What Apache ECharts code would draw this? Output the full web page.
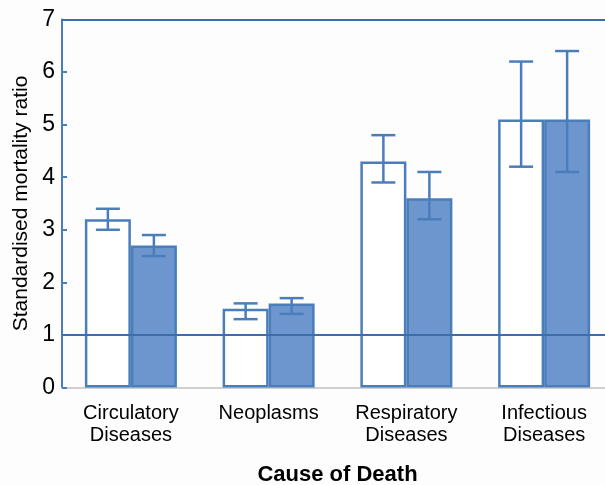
<!DOCTYPE html>
<html><head><meta charset="utf-8">
<script src="https://cdn.jsdelivr.net/npm/echarts@6/dist/echarts.min.js"></script>
<style>html,body{margin:0;padding:0;background:#fff}#c{width:605px;height:485px}</style>
</head><body><div id="c"></div>
<script>
var categories = ['Circulatory\nDiseases', 'Neoplasms', 'Respiratory\nDiseases', 'Infectious\nDiseases'];
var whiteValues = [3.2, 1.5, 4.3, 5.1];
var whiteLow = [3.0, 1.3, 3.9, 4.2];
var whiteHigh = [3.4, 1.6, 4.8, 6.2];
var blueValues = [2.7, 1.6, 3.6, 5.1];
var blueLow = [2.5, 1.4, 3.2, 4.1];
var blueHigh = [2.9, 1.7, 4.1, 6.4];
var yTicks = [0, 1, 2, 3, 4, 5, 6, 7];
var refLines = [1, 7];

var lineColor = '#4a7ebb';
var font = 'Liberation Sans, Arial, sans-serif';

function errData(low, high) {
  return categories.map(function (c, i) { return [i, low[i], high[i]]; });
}
function errRender(side) {
  return function (params, api) {
    var i = api.value(0);
    var lo = api.coord([i, api.value(1)]);
    var hi = api.coord([i, api.value(2)]);
    var cw = api.size([1, 0])[0];
    var x = lo[0] + side * cw * 0.167;
    var cap = 12;
    var st = { stroke: lineColor, lineWidth: 2.5 };
    return { type: 'group', children: [
      { type: 'line', shape: { x1: x, y1: hi[1], x2: x, y2: lo[1] }, style: st },
      { type: 'line', shape: { x1: x - cap, y1: hi[1], x2: x + cap, y2: hi[1] }, style: st },
      { type: 'line', shape: { x1: x - cap, y1: lo[1], x2: x + cap, y2: lo[1] }, style: st }
    ]};
  };
}

var chart = echarts.init(document.getElementById('c'), null, { renderer: 'canvas' });
chart.setOption({
  backgroundColor: '#fdfdfd',
  animation: false,
  grid: { left: 62, top: 19.5, bottom: 97.5, right: -8, containLabel: false, outerBoundsMode: 'none' },
  xAxis: {
    type: 'category', data: categories,
    name: 'Cause of Death', nameLocation: 'middle', nameGap: 76,
    nameTextStyle: { fontFamily: font, fontSize: 22, fontWeight: 'bold', color: '#000' },
    axisLine: { show: true, lineStyle: { color: '#d0d0d0', width: 2 } },
    axisTick: { show: false },
    axisLabel: { fontFamily: font, fontSize: 20, color: '#000', lineHeight: 22, margin: 15 }
  },
  yAxis: {
    type: 'value', min: 0, max: 7, interval: 1,
    name: 'Standardised mortality ratio', nameLocation: 'middle', nameGap: 29,
    nameTextStyle: { fontFamily: font, fontSize: 21, color: '#000' },
    axisLine: { show: true, lineStyle: { color: lineColor, width: 2 } },
    axisTick: { show: true, inside: true, length: 5, lineStyle: { color: lineColor, width: 2 } },
    axisLabel: { fontFamily: font, fontSize: 23, color: '#000', margin: 7,
      formatter: function (v) { return yTicks.indexOf(v) >= 0 ? String(v) : ''; } },
    splitLine: { show: false }
  },
  series: [
    { type: 'bar', data: whiteValues, barGap: '0%', barCategoryGap: '33.2%',
      itemStyle: { color: '#ffffff', borderColor: lineColor, borderWidth: 2.5 },
      markLine: { silent: true, symbol: 'none', label: { show: false },
        lineStyle: { color: '#3c6eac', width: 2, type: 'solid' },
        data: refLines.map(function (v) { return { yAxis: v }; }) } },
    { type: 'bar', data: blueValues,
      itemStyle: { color: '#6d96cf', borderColor: lineColor, borderWidth: 2.5 } },
    { type: 'custom', renderItem: errRender(-1), data: errData(whiteLow, whiteHigh), z: 5 },
    { type: 'custom', renderItem: errRender(1), data: errData(blueLow, blueHigh), z: 5 }
  ]
});
</script></body></html>
